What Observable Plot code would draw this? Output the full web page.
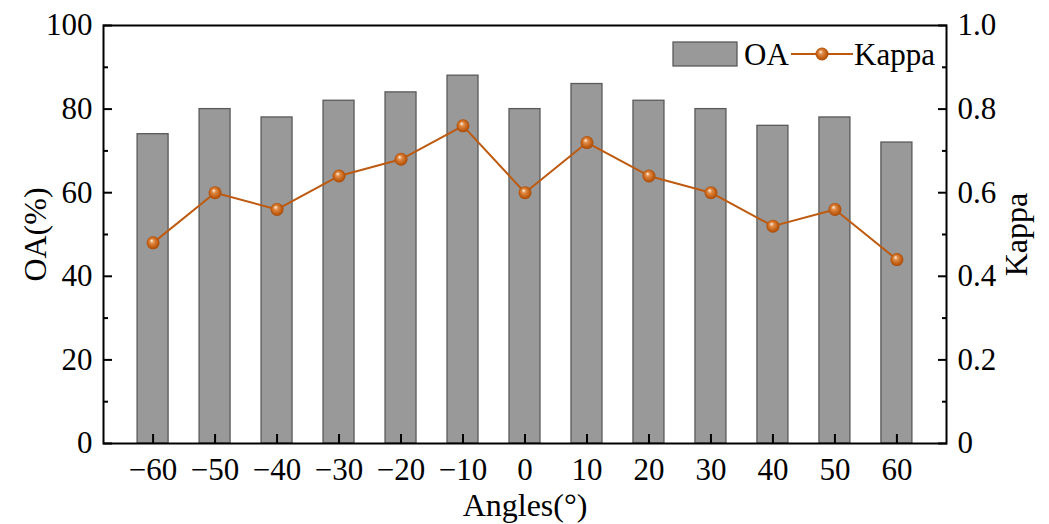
<!DOCTYPE html>
<html>
<head>
<meta charset="utf-8">
<script src="https://cdn.jsdelivr.net/npm/d3@7"></script>
<script src="https://cdn.jsdelivr.net/npm/@observablehq/plot@0.6"></script>
<style>
  html, body { margin: 0; padding: 0; background: #fff; }
  #wrap { position: relative; width: 1049px; height: 524px; font-family: "Liberation Serif", "Times New Roman", serif; }
  #legend { position: absolute; left: 673px; top: 40px; }
</style>
</head>
<body>
<div id="wrap"></div>
<script>
// ---- data ----
const angles = [-60, -50, -40, -30, -20, -10, 0, 10, 20, 30, 40, 50, 60];
const oa = [74, 80, 78, 82, 84, 88, 80, 86, 82, 80, 76, 78, 72];
const kappa = [0.48, 0.60, 0.56, 0.64, 0.68, 0.76, 0.60, 0.72, 0.64, 0.60, 0.52, 0.56, 0.44];
const xTicks = [-60, -50, -40, -30, -20, -10, 0, 10, 20, 30, 40, 50, 60];
const leftTicks = [0, 20, 40, 60, 80, 100];
const leftMinor = [10, 30, 50, 70, 90];
const rightTickLabels = ["0", "0.2", "0.4", "0.6", "0.8", "1.0"];
const seriesNames = ["OA", "Kappa"];
const axisTitles = { x: "Angles(°)", yLeft: "OA(%)", yRight: "Kappa" };

const rows = angles.map((a, i) => ({ angle: a, oa: oa[i], kappa: kappa[i] }));

const FONT = "Liberation Serif, Times New Roman, serif";
const FS = 31;
const TFS = 32;
const lineColor = "#BD5A0F";
const halfBar = 2.5; // half bar width in degrees

const fmtMinus = d => (d < 0 ? "\u2212" + Math.abs(d) : String(d));

const chart = Plot.plot({
  width: 1049,
  height: 524,
  marginLeft: 103,
  marginRight: 103,
  marginTop: 25,
  marginBottom: 81,
  style: { fontFamily: FONT, fontSize: FS + "px", color: "black", background: "white", overflow: "visible" },
  x: { domain: [-68, 68] },
  y: { domain: [0, 100] },
  marks: [
    Plot.rectY(rows, {
      x1: d => d.angle - halfBar,
      x2: d => d.angle + halfBar,
      y1: 0,
      y2: "oa",
      fill: "#999999",
      stroke: "#5a5a5a",
      strokeWidth: 1.3
    }),
    Plot.line(rows, { x: "angle", y: d => d.kappa * 100, stroke: lineColor, strokeWidth: 2 }),
    Plot.dot(rows, { x: "angle", y: d => d.kappa * 100, r: 6.5, fill: "url(#ballGrad)", stroke: "none" }),
    // bottom axis
    Plot.axisX({ ticks: xTicks, tickSize: -9, strokeWidth: 2, text: null, label: null }),
    Plot.axisX({ ticks: xTicks, tickSize: 0, tickPadding: 14, tickFormat: fmtMinus, fontSize: FS, fontFamily: FONT, label: null }),
    // left axis
    Plot.axisY({ anchor: "left", ticks: leftTicks, tickSize: -9, strokeWidth: 2, text: null, label: null }),
    Plot.axisY({ anchor: "left", ticks: leftMinor, tickSize: -5, strokeWidth: 2, text: null, label: null }),
    Plot.axisY({ anchor: "left", ticks: leftTicks, tickSize: 0, tickPadding: 11, fontSize: FS, fontFamily: FONT, label: null }),
    // right axis (Kappa, scaled x100)
    Plot.axisY({ anchor: "right", ticks: leftTicks, tickSize: -9, strokeWidth: 2, text: null, label: null }),
    Plot.axisY({ anchor: "right", ticks: leftMinor, tickSize: -5, strokeWidth: 2, text: null, label: null }),
    Plot.axisY({ anchor: "right", ticks: leftTicks, tickSize: 0, tickPadding: 11, tickFormat: d => rightTickLabels[leftTicks.indexOf(d)], fontSize: FS, fontFamily: FONT, label: null }),
    Plot.frame({ stroke: "black", strokeWidth: 2 }),
    // axis titles
    Plot.text([axisTitles.x], { text: d => d, frameAnchor: "bottom", textAnchor: "middle", dy: 62, lineAnchor: "middle", fontSize: TFS, fontFamily: FONT, fill: "black" }),
    Plot.text([axisTitles.yLeft], { text: d => d, frameAnchor: "left", textAnchor: "middle", dx: -68, rotate: -90, lineAnchor: "middle", fontSize: TFS, fontFamily: FONT, fill: "black" }),
    Plot.text([axisTitles.yRight], { text: d => d, frameAnchor: "right", textAnchor: "middle", dx: 70, rotate: -90, lineAnchor: "middle", fontSize: TFS, fontFamily: FONT, fill: "black" })
  ]
});

// gradient for glossy balls
const defs = d3.select(chart).insert("defs", ":first-child");
const g = defs.append("radialGradient").attr("id", "ballGrad").attr("cx", "50%").attr("cy", "50%").attr("r", "55%").attr("fx", "38%").attr("fy", "32%");
g.append("stop").attr("offset", "0%").attr("stop-color", "#fff4e8");
g.append("stop").attr("offset", "30%").attr("stop-color", "#E08A45");
g.append("stop").attr("offset", "75%").attr("stop-color", "#BD5A0F");
g.append("stop").attr("offset", "100%").attr("stop-color", "#9E4508");

const wrap = document.getElementById("wrap");
wrap.appendChild(chart);

// legend
const legend = document.createElement("div");
legend.id = "legend";
legend.innerHTML = `
<svg width="260" height="30" style="font-family:${FONT};font-size:${FS}px;overflow:visible">
  <defs>
    <radialGradient id="ballGradL" cx="50%" cy="50%" r="55%" fx="38%" fy="32%">
      <stop offset="0%" stop-color="#fff4e8"/>
      <stop offset="30%" stop-color="#E08A45"/>
      <stop offset="75%" stop-color="#BD5A0F"/>
      <stop offset="100%" stop-color="#9E4508"/>
    </radialGradient>
  </defs>
  <rect x="0" y="2" width="64" height="24" fill="#999999" stroke="#5a5a5a" stroke-width="1.3"/>
  <text x="71" y="25" fill="black">${seriesNames[0]}</text>
  <line x1="118" y1="14" x2="180" y2="14" stroke="${lineColor}" stroke-width="2"/>
  <circle cx="149" cy="14" r="6.5" fill="url(#ballGradL)"/>
  <text x="181" y="25" fill="black">${seriesNames[1]}</text>
</svg>`;
wrap.appendChild(legend);
</script>
</body>
</html>
